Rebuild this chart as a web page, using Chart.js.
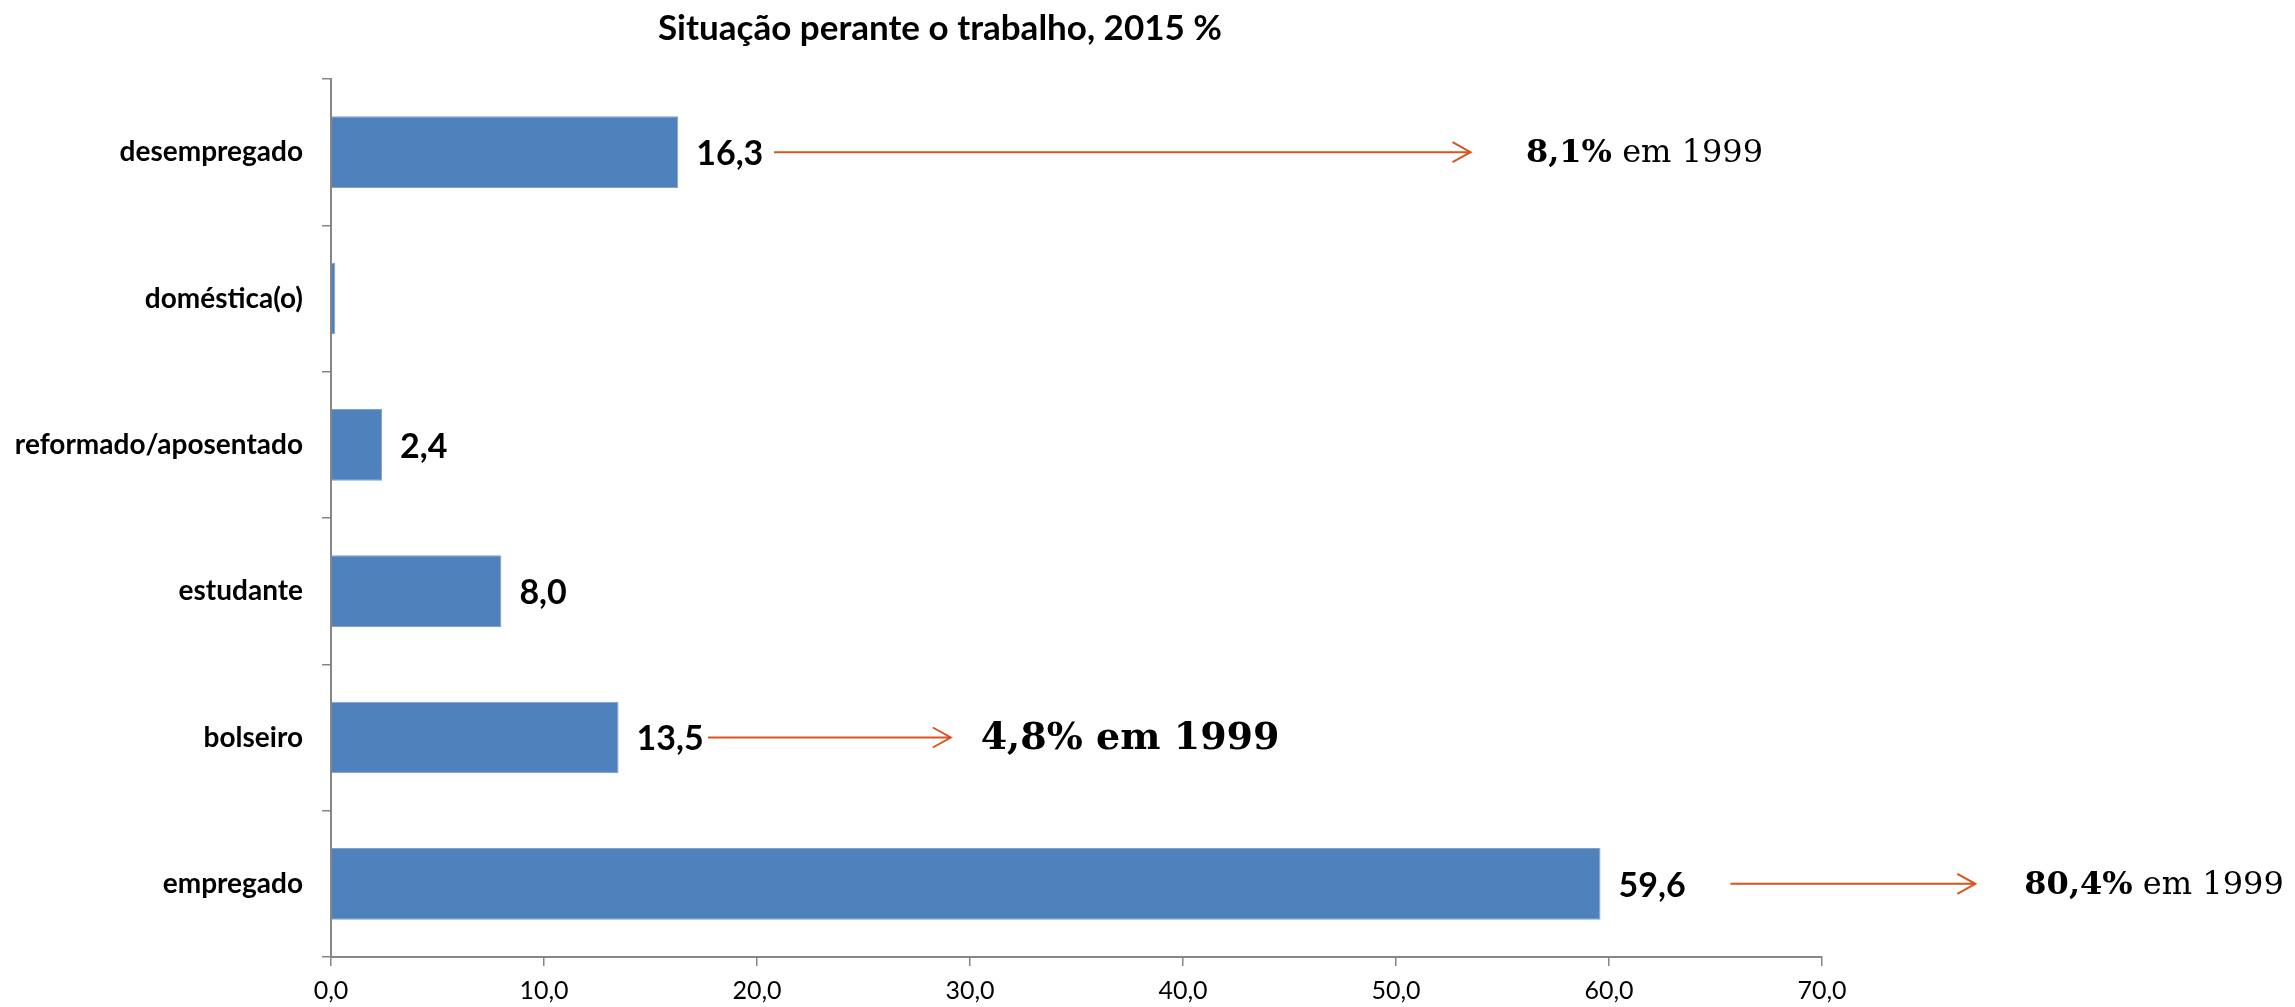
<!DOCTYPE html>
<html>
<head>
<meta charset="utf-8">
<script src="https://cdn.jsdelivr.net/npm/chart.js@4.4.0/dist/chart.umd.min.js"></script>
<style>
    html, body { margin: 0; padding: 0; background: #fff; }
    #wrap { width: 2295px; height: 1007px; position: relative; }
</style>
</head>
<body>
<div id="wrap"><canvas id="situacaoChart"></canvas></div>
<script>
// === DATA ===
const TITLE = 'Situação perante o trabalho, 2015 %';
const categories = ['desempregado', 'doméstica(o)', 'reformado/aposentado', 'estudante', 'bolseiro', 'empregado'];
const values2015 = [16.3, 0.2, 2.4, 8.0, 13.5, 59.6];
const xTicks = [0, 10, 20, 30, 40, 50, 60, 70];

// 1999 comparison notes (arrow start / end / text start in axis units)
const noteCategories = ['desempregado', 'bolseiro', 'empregado'];
const noteValues1999 = ['8,1%', '4,8%', '80,4%'];
const noteArrowFrom = [20.8, 17.7, 65.7];
const noteArrowTo = [53.5, 29.1, 77.2];
const noteTextAt = [56.1, 30.5, 79.5];
const noteHeavy = [false, true, false];

const COLORS = {
    bar: '#4F81BD',
    barEdge: '#7FA1CE',
    axis: '#868686',
    arrow: '#D9541E',
    text: '#000000'
};

const fmt = v => v.toFixed(1).replace('.', ',');

const annotations = {
    id: 'annotations',
    afterDatasetsDraw(chart) {
        const ctx = chart.ctx;
        const x = chart.scales.x, y = chart.scales.y;
        const meta = chart.getDatasetMeta(0);

        ctx.save();
        // value labels
        ctx.font = 'bold 34px Lato';
        ctx.fillStyle = COLORS.text;
        ctx.textAlign = 'left';
        ctx.textBaseline = 'middle';
        meta.data.forEach((bar, i) => {
            if (values2015[i] < 1) return;
            ctx.fillText(fmt(values2015[i]), bar.x + 18, bar.y + 2);
        });

        // arrows + 1999 values
        noteCategories.forEach((cat, i) => {
            const py = y.getPixelForValue(categories.indexOf(cat));
            const x1 = x.getPixelForValue(noteArrowFrom[i]);
            const x2 = x.getPixelForValue(noteArrowTo[i]);
            ctx.strokeStyle = COLORS.arrow;
            ctx.lineWidth = 2;
            ctx.beginPath();
            ctx.moveTo(x1, py);
            ctx.lineTo(x2, py);
            ctx.moveTo(x2 - 18, py - 10);
            ctx.lineTo(x2, py);
            ctx.lineTo(x2 - 18, py + 10);
            ctx.stroke();

            let tx = x.getPixelForValue(noteTextAt[i]);
            ctx.fillStyle = COLORS.text;
            if (noteHeavy[i]) {
                ctx.font = 'bold 38px "DejaVu Serif"';
                ctx.fillText(noteValues1999[i] + ' em 1999', tx, py + 2);
            } else {
                ctx.font = 'bold 32px "DejaVu Serif"';
                ctx.fillText(noteValues1999[i], tx, py + 2);
                tx += ctx.measureText(noteValues1999[i]).width;
                ctx.font = '32px "DejaVu Serif"';
                ctx.fillText(' em 1999', tx, py + 2);
            }
        });
        ctx.restore();
    },
    afterDraw(chart) {
        const ctx = chart.ctx;
        ctx.save();
        ctx.font = 'bold 35px Lato';
        ctx.fillStyle = COLORS.text;
        ctx.textAlign = 'center';
        ctx.textBaseline = 'middle';
        ctx.fillText(TITLE, 940, 29);
        ctx.restore();
    }
};

new Chart(document.getElementById('situacaoChart'), {
    type: 'bar',
    data: {
        labels: categories,
        datasets: [{
            data: values2015,
            backgroundColor: COLORS.bar,
            borderColor: COLORS.barEdge,
            borderWidth: 1,
            barPercentage: 0.49,
            categoryPercentage: 1
        }]
    },
    options: {
        indexAxis: 'y',
        responsive: true,
        maintainAspectRatio: false,
        animation: false,
        layout: { padding: { top: 79, right: 473, left: 0, bottom: 0 } },
        plugins: {
            legend: { display: false },
            tooltip: { enabled: false },
            title: { display: false }
        },
        scales: {
            x: {
                min: xTicks[0],
                max: xTicks[xTicks.length - 1],
                afterBuildTicks: s => { s.ticks = xTicks.map(v => ({ value: v })); },
                afterFit: s => { s.height = 50; },
                ticks: {
                    callback: v => fmt(v),
                    font: { family: 'Lato', size: 25 },
                    color: COLORS.text,
                    padding: 10,
                    maxRotation: 0
                },
                grid: { drawOnChartArea: false, tickLength: 9, color: COLORS.axis, lineWidth: 1.5 },
                border: { color: COLORS.axis, width: 2 }
            },
            y: {
                afterFit: s => { s.width = 331; },
                ticks: {
                    font: { family: 'Lato', size: 28, weight: 'bold' },
                    color: COLORS.text,
                    padding: 19
                },
                grid: { drawOnChartArea: false, tickLength: 9, color: COLORS.axis, lineWidth: 1.5, offset: true },
                border: { color: COLORS.axis, width: 2 }
            }
        }
    },
    plugins: [annotations]
});
</script>
</body>
</html>
